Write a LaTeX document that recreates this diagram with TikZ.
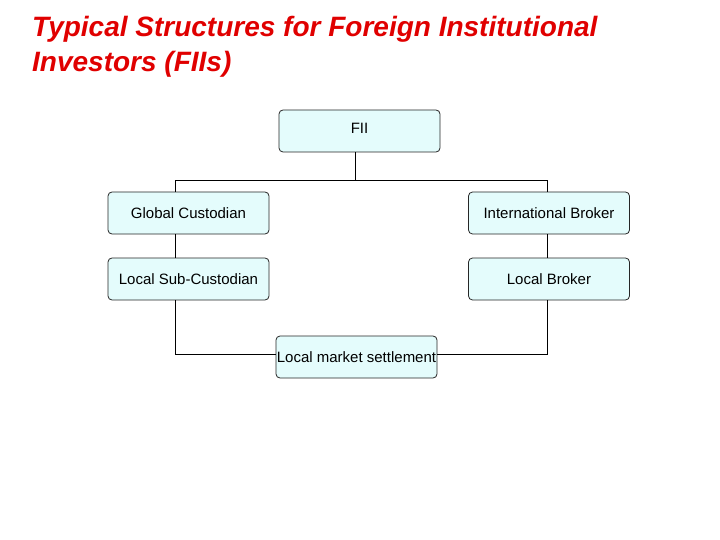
\documentclass[tikz,border=0pt]{standalone}
\usepackage{fontspec}
\setmainfont{Liberation Sans}
\usetikzlibrary{calc}
\definecolor{boxfill}{HTML}{E4FCFC}
\definecolor{titlered}{HTML}{E00000}
\begin{document}
\begin{tikzpicture}[x=1pt,y=-1pt,
  orgbox/.style={draw=black!85, line width=0.8pt, fill=boxfill, rounded corners=4pt,
    minimum width=161pt, minimum height=42pt, inner sep=0pt,
    font=\fontsize{15}{17}\selectfont},
  conn/.style={draw=black, line width=0.8pt}]
\useasboundingbox (0,0) rectangle (720,540);
\node[anchor=base west, text=titlered, font=\fontsize{28}{34}\selectfont\bfseries\itshape, inner sep=0pt] (t1) at (32,37) {Typical Structures for Foreign Institutional};
\node[anchor=base west, text=titlered, font=\fontsize{28}{34}\selectfont\bfseries\itshape, inner sep=0pt] (t2) at (32,72) {Investors (FIIs)};
\node[orgbox] (fii) at (359.5,131) {\raisebox{4.5pt}{FII}};
\node[orgbox] (gc) at (188.5,213) {Global Custodian};
\node[orgbox] (ib) at (549,213) {International Broker};
\node[orgbox] (lsc) at (188.5,279) {Local Sub-Custodian};
\node[orgbox] (lb) at (549,279) {Local Broker};
\node[orgbox] (lms) at (356.5,357) {Local market settlement};
\coordinate (busL) at (175,180);
\coordinate (busR) at (547,180);
\coordinate (fiiS) at ($(fii.south)+(-4.5,0)$);
\draw[conn] (fiiS) -- (fiiS |- busL);
\draw[conn] (gc.north -| busL) -- (busL) -- (busR) -- (ib.north -| busR);
\draw[conn] (gc.south -| busL) -- (lsc.north -| busL);
\draw[conn] (ib.south -| busR) -- (lb.north -| busR);
\draw[conn] (lsc.south -| busL) |- ($(lms.west)+(0,-3)$);
\draw[conn] (lb.south -| busR) |- ($(lms.east)+(0,-3)$);
\end{tikzpicture}
\end{document}
